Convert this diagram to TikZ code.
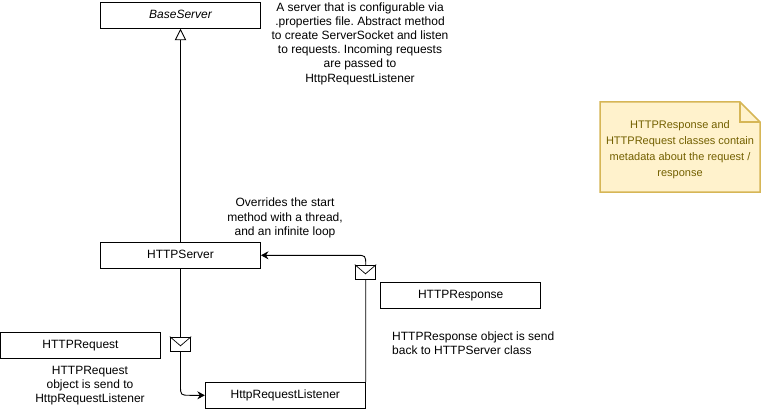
\documentclass[tikz,border=0pt]{standalone}
\usepackage{fontspec}
\setmainfont{Liberation Sans}
\usetikzlibrary{arrows.meta,calc}
\definecolor{notefill}{HTML}{FFF2CC}
\definecolor{noteline}{HTML}{D6B656}
\definecolor{notetext}{HTML}{736000}
\tikzset{
  x=1pt,y=-1pt,
  txt/.style={font=\fontsize{12}{14.2}\selectfont\frenchspacing,align=center,inner sep=0pt,text=black},
  box/.style={draw=black,line width=0.9pt,fill=white,minimum width=160pt,minimum height=26pt,inner sep=0pt,text height=8.5pt,text depth=2pt,font=\fontsize{12}{14.4}\selectfont},
  env/.style={draw=black,line width=0.9pt,fill=white,minimum width=20.5pt,minimum height=14.5pt,inner sep=0pt},
  conn/.style={draw=black,line width=0.9pt},
  flow/.style={conn,-{Stealth[length=7.5pt,width=8pt,inset=2.5pt]}},
  inherit/.style={conn,-{Triangle[open,fill=white,length=11.5pt,width=11.5pt]}},
}
\newcommand{\envflap}[1]{\draw[black,line width=0.7pt] (#1.north west) -- ($(#1.center)+(0,1.5)$) -- (#1.north east);}
\begin{document}
\begin{tikzpicture}
\useasboundingbox (0,0) rectangle (762,409);
\fill[white] (0,0) rectangle (762,409);

\node[box,font=\fontsize{12}{14.4}\selectfont\itshape] (base) at (180.5,15.3) {BaseServer};
\node[box] (server) at (180.5,255.3) {HTTPServer};
\node[box] (request) at (80.5,345.3) {HTTPRequest};
\node[box] (listener) at (285.3,395.3) {HttpRequestListener};
\node[box] (response) at (460.7,295.3) {HTTPResponse};

\draw[inherit] (server.north) -- (base.south);

\coordinate (c1) at (server.south |- listener.west);
\draw[flow] (server.south) -- ($(c1)+(0,-10)$) .. controls (c1) and (c1) .. ($(c1)+(10,0)$) -- (listener.west);

\coordinate (c2) at (listener.north east |- server.east);
\draw[flow] (listener.north east) -- ($(c2)+(0,10)$) .. controls (c2) and (c2) .. ($(c2)+(-10,0)$) -- (server.east);

\node[env] (env1) at (180.5,344.3) {};
\envflap{env1}
\node[env] (env2) at (365.5,272.3) {};
\envflap{env2}

\node[txt] (t1) at (360,43.5) {A server that is configurable via\\.properties file. Abstract method\\to create ServerSocket and listen\\to requests. Incoming requests\\are passed to\\HttpRequestListener};
\node[txt] (t2) at (285,218) {Overrides the start\\method with a thread,\\and an infinite loop};
\node[txt] (t3) at (90,385.5) {HTTPRequest\\object is send to\\HttpRequestListener};
\node[txt,align=left,anchor=west] (t4) at (392,343.5) {HTTPResponse object is send\\back to HTTPServer class};

\draw[draw=noteline,fill=notefill,line width=1.5pt,line join=miter] (600,102) -- (740,102) -- (760,122) -- (760,192) -- (600,192) -- cycle;
\draw[draw=noteline,line width=1.5pt] (740,102) -- (740,122) -- (760,122);
\node[txt,text=notetext,font=\fontsize{11}{16}\selectfont] (note) at (680,150) {HTTPResponse and\\HTTPRequest classes contain\\metadata about the request /\\response};
\end{tikzpicture}
\end{document}
